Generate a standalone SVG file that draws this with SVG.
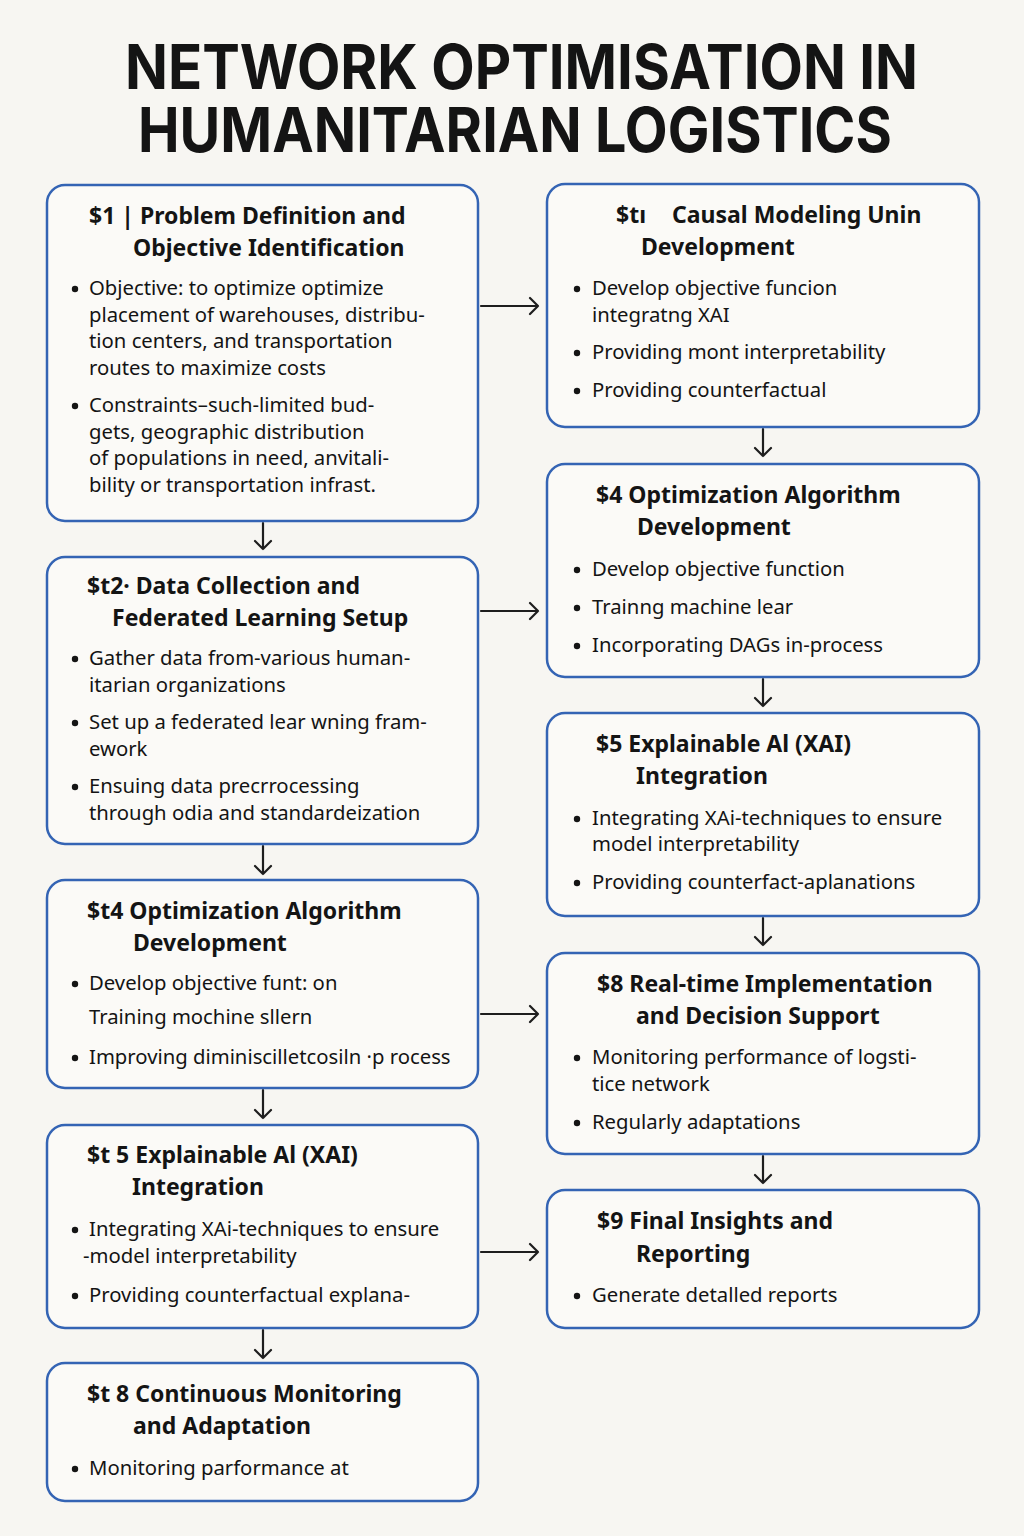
<svg xmlns="http://www.w3.org/2000/svg" width="1024" height="1536" viewBox="0 0 1024 1536">
<defs>
<style>
.bg{fill:#f7f6f2}
.box{fill:#fbfaf7;stroke:#3464b4;stroke-width:2.5}
.h{font-family:"Noto Sans","Open Sans",sans-serif;font-weight:700;font-size:23px;fill:#141414}
.t{font-family:"Noto Sans","Open Sans",sans-serif;font-size:20.3px;fill:#141414}
.ttl{font-family:Inter,"Noto Sans",sans-serif;font-weight:700;font-size:62px;fill:#141414}
.c{fill:none;stroke:#1e1e1e;stroke-width:2.2;stroke-linecap:round;stroke-linejoin:round}
.dot{fill:#141414}
</style>
</defs>
<rect class="bg" x="0" y="0" width="1024" height="1536"/>
<g id="title">
<text class="ttl" x="125" y="89" textLength="793" lengthAdjust="spacingAndGlyphs">NETWORK OPTIMISATION IN</text>
<text class="ttl" x="138" y="152" textLength="754" lengthAdjust="spacingAndGlyphs">HUMANITARIAN LOGISTICS</text>
</g>
<g id="connectors">
<path class="c" d="M263 523 V549 M255 541 L263 549 L271 541"/>
<path class="c" d="M263 846 V874 M255 866 L263 874 L271 866"/>
<path class="c" d="M263 1090 V1118 M255 1110 L263 1118 L271 1110"/>
<path class="c" d="M263 1330 V1358 M255 1350 L263 1358 L271 1350"/>
<path class="c" d="M763 429 V456 M755 448 L763 456 L771 448"/>
<path class="c" d="M763 679 V706 M755 698 L763 706 L771 698"/>
<path class="c" d="M763 918 V945 M755 937 L763 945 L771 937"/>
<path class="c" d="M763 1156 V1183 M755 1175 L763 1183 L771 1175"/>
<path class="c" d="M481 306 H538 M530 298 L538 306 L530 314"/>
<path class="c" d="M481 611 H538 M530 603 L538 611 L530 619"/>
<path class="c" d="M481 1014 H538 M530 1006 L538 1014 L530 1022"/>
<path class="c" d="M481 1252 H538 M530 1244 L538 1252 L530 1260"/>
</g>
<g id="node-s1">
<rect class="box" x="47" y="185" width="431" height="336" rx="18"/>
<text class="h" x="89" y="224">$1 | Problem Definition and</text>
<text class="h" x="133" y="256">Objective Identification</text>
<circle class="dot" cx="75" cy="289" r="3.2"/>
<text class="t" x="89" y="295">Objective: to optimize optimize</text>
<text class="t" x="89" y="322">placement of warehouses, distribu-</text>
<text class="t" x="89" y="348">tion centers, and transportation</text>
<text class="t" x="89" y="375">routes to maximize costs</text>
<circle class="dot" cx="75" cy="406" r="3.2"/>
<text class="t" x="89" y="412">Constraints–such-limited bud-</text>
<text class="t" x="89" y="439">gets, geographic distribution</text>
<text class="t" x="89" y="465">of populations in need, anvitali-</text>
<text class="t" x="89" y="492">bility or transportation infrast.</text>
</g>
<g id="node-s2">
<rect class="box" x="47" y="557" width="431" height="287" rx="18"/>
<text class="h" x="87" y="594">$t2· Data Collection and</text>
<text class="h" x="112" y="626">Federated Learning Setup</text>
<circle class="dot" cx="75" cy="659" r="3.2"/>
<text class="t" x="89" y="665">Gather data from-various human-</text>
<text class="t" x="89" y="692">itarian organizations</text>
<circle class="dot" cx="75" cy="723" r="3.2"/>
<text class="t" x="89" y="729">Set up a federated lear wning fram-</text>
<text class="t" x="89" y="756">ework</text>
<circle class="dot" cx="75" cy="787" r="3.2"/>
<text class="t" x="89" y="793">Ensuing data precrrocessing</text>
<text class="t" x="89" y="820">through odia and standardeization</text>
</g>
<g id="node-s4-left">
<rect class="box" x="47" y="880" width="431" height="208" rx="18"/>
<text class="h" x="87" y="919">$t4  Optimization Algorithm</text>
<text class="h" x="133" y="951">Development</text>
<circle class="dot" cx="75" cy="984" r="3.2"/>
<text class="t" x="89" y="990">Develop objective funt: on</text>
<text class="t" x="89" y="1024">Training mochine sllern</text>
<circle class="dot" cx="75" cy="1058" r="3.2"/>
<text class="t" x="89" y="1064">Improving diminiscilletcosiln ·p rocess</text>
</g>
<g id="node-s5-left">
<rect class="box" x="47" y="1125" width="431" height="203" rx="18"/>
<text class="h" x="87" y="1163">$t 5 Explainable Al (XAI)</text>
<text class="h" x="132" y="1195">Integration</text>
<circle class="dot" cx="75" cy="1230" r="3.2"/>
<text class="t" x="89" y="1236">Integrating XAi-techniques to ensure</text>
<text class="t" x="83" y="1263">-model interpretability</text>
<circle class="dot" cx="75" cy="1296" r="3.2"/>
<text class="t" x="89" y="1302">Providing counterfactual explana-</text>
</g>
<g id="node-s8-left">
<rect class="box" x="47" y="1363" width="431" height="138" rx="18"/>
<text class="h" x="87" y="1402">$t 8 Continuous Monitoring</text>
<text class="h" x="133" y="1434">and Adaptation</text>
<circle class="dot" cx="75" cy="1469" r="3.2"/>
<text class="t" x="89" y="1475">Monitoring parformance at</text>
</g>
<g id="node-causal">
<rect class="box" x="547" y="184" width="432" height="243" rx="18"/>
<text class="h" x="616" y="223">$tı <tspan x="672">Causal Modeling Unin</tspan></text>
<text class="h" x="641" y="255">Development</text>
<circle class="dot" cx="577" cy="289" r="3.2"/>
<text class="t" x="592" y="295">Develop objective funcion</text>
<text class="t" x="592" y="322">integratng XAI</text>
<circle class="dot" cx="577" cy="353" r="3.2"/>
<text class="t" x="592" y="359">Providing mont interpretability</text>
<circle class="dot" cx="577" cy="391" r="3.2"/>
<text class="t" x="592" y="397">Providing counterfactual</text>
</g>
<g id="node-s4-right">
<rect class="box" x="547" y="464" width="432" height="213" rx="18"/>
<text class="h" x="596" y="503">$4 Optimization Algorithm</text>
<text class="h" x="637" y="535">Development</text>
<circle class="dot" cx="577" cy="570" r="3.2"/>
<text class="t" x="592" y="576">Develop objective function</text>
<circle class="dot" cx="577" cy="608" r="3.2"/>
<text class="t" x="592" y="614">Trainng machine lear</text>
<circle class="dot" cx="577" cy="646" r="3.2"/>
<text class="t" x="592" y="652">Incorporating DAGs in-process</text>
</g>
<g id="node-s5-right">
<rect class="box" x="547" y="713" width="432" height="203" rx="18"/>
<text class="h" x="596" y="752">$5 Explainable Al (XAI)</text>
<text class="h" x="636" y="784">Integration</text>
<circle class="dot" cx="577" cy="819" r="3.2"/>
<text class="t" x="592" y="825">Integrating XAi-techniques to ensure</text>
<text class="t" x="592" y="851">model interpretability</text>
<circle class="dot" cx="577" cy="883" r="3.2"/>
<text class="t" x="592" y="889">Providing counterfact-aplanations</text>
</g>
<g id="node-s8-right">
<rect class="box" x="547" y="953" width="432" height="201" rx="18"/>
<text class="h" x="597" y="992">$8 Real-time Implementation</text>
<text class="h" x="636" y="1024">and Decision Support</text>
<circle class="dot" cx="577" cy="1058" r="3.2"/>
<text class="t" x="592" y="1064">Monitoring performance of logsti-</text>
<text class="t" x="592" y="1091">tice network</text>
<circle class="dot" cx="577" cy="1123" r="3.2"/>
<text class="t" x="592" y="1129">Regularly adaptations</text>
</g>
<g id="node-s9">
<rect class="box" x="547" y="1190" width="432" height="138" rx="18"/>
<text class="h" x="597" y="1229">$9 Final Insights and</text>
<text class="h" x="636" y="1262">Reporting</text>
<circle class="dot" cx="577" cy="1296" r="3.2"/>
<text class="t" x="592" y="1302">Generate detalled reports</text>
</g>
</svg>
